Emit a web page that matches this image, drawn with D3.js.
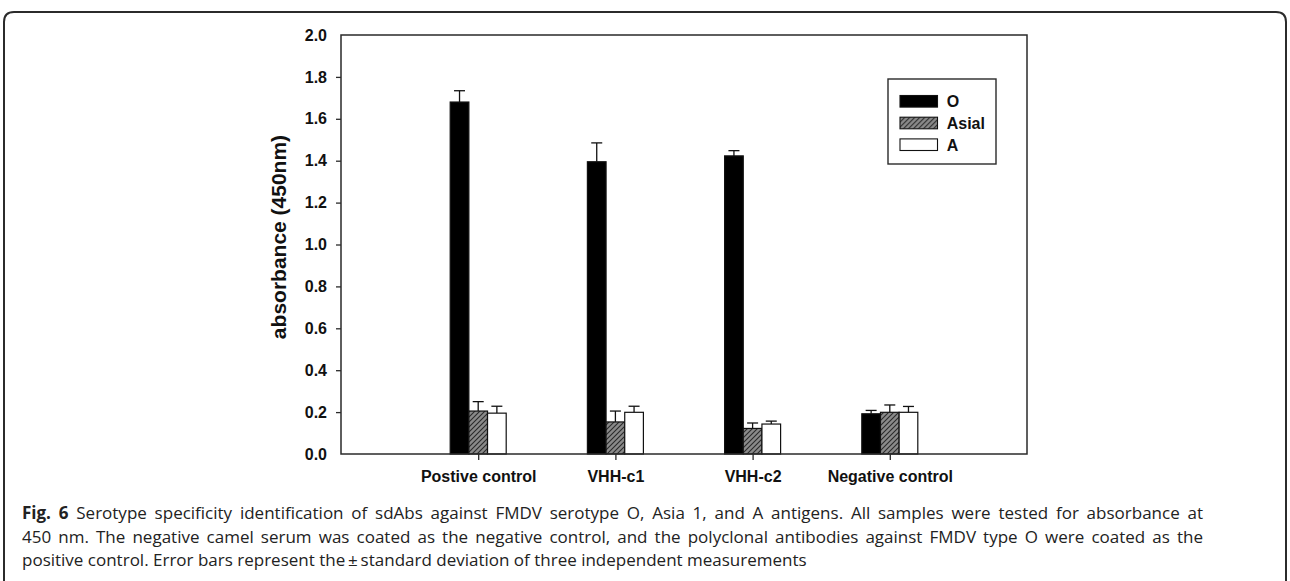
<!DOCTYPE html>
<html>
<head>
<meta charset="utf-8">
<script src="https://cdn.jsdelivr.net/npm/d3@7"></script>
<style>
  html, body { margin: 0; padding: 0; background: #fff; }
  svg { display: block; }
</style>
</head>
<body>
<svg id="chart" width="1290" height="581"></svg>
<script>
// ---------- data ----------
const categories = ["Postive control", "VHH-c1", "VHH-c2", "Negative control"];
const series = ["O", "Asial", "A"];
const valuesO     = [1.680, 1.395, 1.423, 0.192];
const valuesAsial = [0.205, 0.153, 0.122, 0.199];
const valuesA     = [0.195, 0.199, 0.143, 0.199];
const errO        = [0.054, 0.090, 0.025, 0.016];
const errAsial    = [0.045, 0.052, 0.026, 0.035];
const errA        = [0.033, 0.029, 0.014, 0.028];
const yTickValues = [0.0, 0.2, 0.4, 0.6, 0.8, 1.0, 1.2, 1.4, 1.6, 1.8, 2.0];
const yTitle = "absorbance (450nm)";
const captionBold = "Fig. 6";
const captionLines = [
  " Serotype specificity identification of sdAbs against FMDV serotype O, Asia 1, and A antigens. All samples were tested for absorbance at",
  "450 nm. The negative camel serum was coated as the negative control, and the polyclonal antibodies against FMDV type O were coated as the",
  "positive control. Error bars represent the\u2009\u00b1\u2009standard deviation of three independent measurements"
];

const seriesValues = { "O": valuesO, "Asial": valuesAsial, "A": valuesA };
const seriesErrors = { "O": errO, "Asial": errAsial, "A": errA };

// ---------- layout ----------
const svg = d3.select("#chart");
const plot = { left: 341, top: 35, width: 686, height: 419 };
const axisColor = "#2a2a2a";
const boldFont = "'Liberation Sans', Arial, sans-serif";

// outer rounded frame (top part)
svg.append("path")
  .attr("d", "M4,581 V22 Q4,12 14,12 H1276 Q1286,12 1286,22 V581")
  .attr("fill", "none").attr("stroke", "#2b2b2b").attr("stroke-width", 2);

// hatch pattern
const defs = svg.append("defs");
const pat = defs.append("pattern")
  .attr("id", "hatch").attr("patternUnits", "userSpaceOnUse")
  .attr("width", 5).attr("height", 5);
pat.append("rect").attr("width", 5).attr("height", 5).attr("fill", "#8a8a8a");
pat.append("path")
  .attr("d", "M-1,1 l2,-2 M0,5 l5,-5 M4,6 l2,-2")
  .attr("stroke", "#2a2a2a").attr("stroke-width", 1.1);

const fills = { "O": "#000", "Asial": "url(#hatch)", "A": "#fff" };

const g = svg.append("g").attr("transform", `translate(${plot.left},${plot.top})`);

const x = d3.scalePoint().domain(categories).range([0, plot.width]).padding(1);
const xInner = d3.scaleBand().domain(series).range([-28, 28]).padding(0);
const y = d3.scaleLinear().domain([0, 2]).range([plot.height, 0]);

// bars
series.forEach(s => {
  const rows = categories.map((c, i) => ({ c, v: seriesValues[s][i], e: seriesErrors[s][i] }));
  const sg = g.append("g");
  const cx = d => x(d.c) + xInner(s) + xInner.bandwidth() / 2;
  sg.selectAll("line.err").data(rows).join("line")
    .attr("x1", cx).attr("x2", cx)
    .attr("y1", d => y(d.v)).attr("y2", d => y(d.v + d.e))
    .attr("stroke", "#111").attr("stroke-width", 1.3);
  sg.selectAll("line.cap").data(rows).join("line")
    .attr("x1", d => cx(d) - 5.5).attr("x2", d => cx(d) + 5.5)
    .attr("y1", d => y(d.v + d.e)).attr("y2", d => y(d.v + d.e))
    .attr("stroke", "#111").attr("stroke-width", 1.3);
  sg.selectAll("rect").data(rows).join("rect")
    .attr("x", d => x(d.c) + xInner(s))
    .attr("width", xInner.bandwidth())
    .attr("y", d => y(d.v))
    .attr("height", d => y(0) - y(d.v))
    .attr("fill", fills[s])
    .attr("stroke", "#111").attr("stroke-width", 1.2);
});

// plot frame
g.append("rect").attr("x", 0).attr("y", 0)
  .attr("width", plot.width).attr("height", plot.height)
  .attr("fill", "none").attr("stroke", axisColor).attr("stroke-width", 1.5);

// y axis
const yAxis = g.append("g")
  .call(d3.axisLeft(y).tickValues(yTickValues).tickFormat(d3.format(".1f")).tickSize(5).tickPadding(9));
yAxis.select(".domain").remove();
yAxis.selectAll(".tick line").attr("stroke", axisColor).attr("stroke-width", 1.3)
  .attr("opacity", d => (d === 0 || d === 2) ? 0 : 1);
yAxis.selectAll(".tick text")
  .attr("font-family", boldFont).attr("font-weight", "bold")
  .attr("font-size", 16).attr("fill", "#111");

// x axis
const xAxis = g.append("g").attr("transform", `translate(0,${plot.height})`)
  .call(d3.axisBottom(x).tickSize(6).tickPadding(11));
xAxis.select(".domain").remove();
xAxis.selectAll(".tick line").attr("stroke", axisColor).attr("stroke-width", 1.3);
xAxis.selectAll(".tick text")
  .attr("font-family", boldFont).attr("font-weight", "bold")
  .attr("font-size", 16).attr("fill", "#111");

// y title
svg.append("text")
  .attr("transform", "translate(286,237) rotate(-90)")
  .attr("text-anchor", "middle")
  .attr("font-family", boldFont).attr("font-weight", "bold")
  .attr("font-size", 21).attr("fill", "#111")
  .text(yTitle);

// legend
const lg = svg.append("g").attr("transform", "translate(888,79)");
lg.append("rect").attr("width", 108).attr("height", 85)
  .attr("fill", "#fff").attr("stroke", axisColor).attr("stroke-width", 1.4);
series.forEach((s, i) => {
  const row = lg.append("g").attr("transform", `translate(12,${16.5 + i * 21.7})`);
  row.append("rect").attr("width", 37.5).attr("height", 11.6)
    .attr("fill", fills[s]).attr("stroke", "#111").attr("stroke-width", 1.1);
  row.append("text").attr("x", 46.7).attr("y", 11.8)
    .attr("font-family", boldFont).attr("font-weight", "bold")
    .attr("font-size", 16).attr("fill", "#111").text(s);
});

// caption (first two lines justified)
const capX = 22, capRight = 1203;
const cap = svg.append("g").attr("font-family", "'Open Sans', 'Noto Sans', sans-serif")
  .attr("font-size", 17).attr("fill", "#222");
captionLines.forEach((line, i) => {
  const t = cap.append("text").attr("x", capX).attr("y", 519 + i * 23.5)
    .style("white-space", "pre");
  let full = line;
  if (i === 0) {
    t.append("tspan").attr("font-weight", "bold").text(captionBold);
    full = captionBold + line;
  }
  t.append("tspan").text(line);
  if (i < 2) {
    const w = t.node().getComputedTextLength();
    const nSpaces = full.split(" ").length - 1;
    const ws = Math.max(0, (capRight - capX - w) / nSpaces);
    t.attr("word-spacing", ws);
  }
});
</script>
</body>
</html>
